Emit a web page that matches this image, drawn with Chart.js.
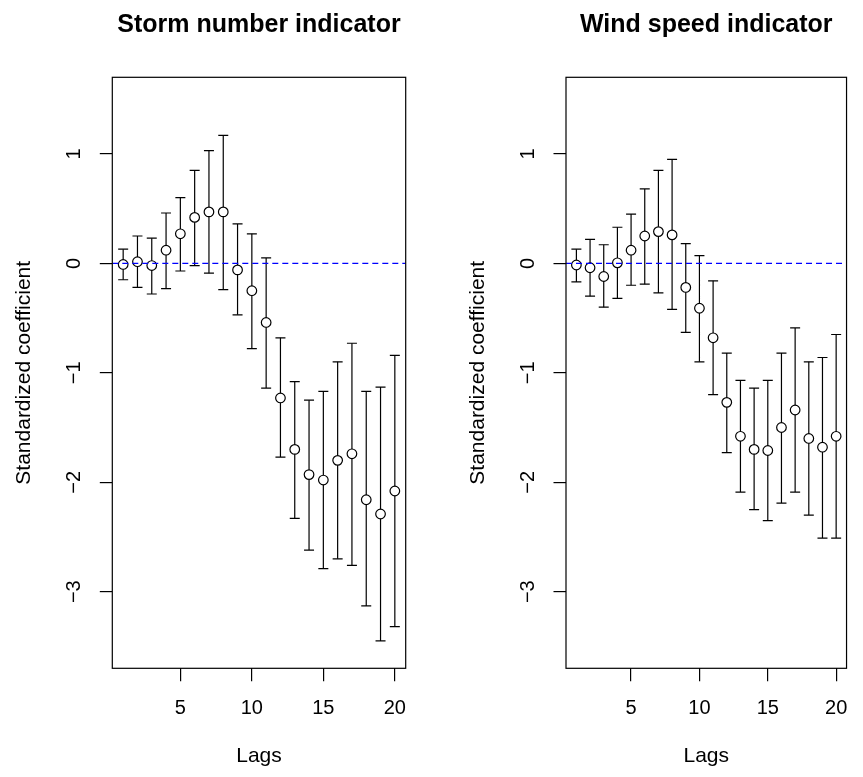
<!DOCTYPE html>
<html>
<head>
<meta charset="utf-8">
<script src="https://cdn.jsdelivr.net/npm/chart.js@4.4.1/dist/chart.umd.min.js"></script>
<style>
  html, body { margin: 0; padding: 0; background: #ffffff; overflow: hidden; }
  #wrap { position: relative; width: 863px; height: 777px; }
  canvas { position: absolute; top: 0; }
  #c1 { left: 0; }
  #c2 { left: 431px; }
</style>
</head>
<body>
<div id="wrap">
  <canvas id="c1" width="431" height="777"></canvas>
  <canvas id="c2" width="432" height="777"></canvas>
</div>
<script>
// ---- data ----
const lags = [1,2,3,4,5,6,7,8,9,10,11,12,13,14,15,16,17,18,19,20];

const stormCoef  = [-0.01, 0.015, -0.02, 0.12, 0.27, 0.42, 0.47, 0.47, -0.06, -0.25, -0.54, -1.23, -1.70, -1.93, -1.98, -1.80, -1.74, -2.16, -2.29, -2.08];
const stormLower = [-0.15, -0.22, -0.28, -0.23, -0.07, -0.02, -0.09, -0.24, -0.47, -0.78, -1.14, -1.77, -2.33, -2.62, -2.79, -2.70, -2.76, -3.13, -3.45, -3.32];
const stormUpper = [0.13, 0.25, 0.23, 0.46, 0.60, 0.85, 1.03, 1.17, 0.36, 0.27, 0.05, -0.68, -1.08, -1.25, -1.17, -0.90, -0.73, -1.17, -1.13, -0.84];

const windCoef  = [-0.015, -0.04, -0.12, 0.005, 0.12, 0.25, 0.29, 0.26, -0.22, -0.41, -0.68, -1.27, -1.58, -1.70, -1.71, -1.50, -1.34, -1.60, -1.68, -1.58];
const windLower = [-0.17, -0.30, -0.40, -0.32, -0.20, -0.19, -0.27, -0.42, -0.63, -0.90, -1.20, -1.73, -2.09, -2.25, -2.35, -2.19, -2.09, -2.30, -2.51, -2.51];
const windUpper = [0.13, 0.22, 0.17, 0.33, 0.45, 0.68, 0.85, 0.95, 0.18, 0.07, -0.16, -0.82, -1.07, -1.14, -1.07, -0.82, -0.59, -0.90, -0.86, -0.65];

const xTicks = [5, 10, 15, 20];
const yTicks = [-3, -2, -1, 0, 1];
const xLimits = [0.24, 20.76];
const yLimits = [-3.7, 1.7];
const refLine = 0;

const titles = ["Storm number indicator", "Wind speed indicator"];
const xTitle = "Lags";
const yTitle = "Standardized coefficient";

// ---- rendering ----
const FONT = '"Liberation Sans", Arial, Helvetica, sans-serif';

function fmt(v) { return v < 0 ? '\u2212' + Math.abs(v) : String(v); }

const boxAndTitle = {
  id: 'boxAndTitle',
  afterDraw(chart) {
    const a = chart.chartArea, ctx = chart.ctx;
    ctx.save();
    ctx.strokeStyle = '#000';
    ctx.lineWidth = 1.2;
    ctx.strokeRect(a.left, a.top, a.right - a.left, a.bottom - a.top);
    ctx.fillStyle = '#000';
    ctx.font = 'bold 25px ' + FONT;
    ctx.textAlign = 'center';
    ctx.textBaseline = 'middle';
    ctx.fillText(chart.options.plugins.boxAndTitle.text, (a.left + a.right) / 2, 25);
    ctx.restore();
  }
};

function makeChart(id, title, coef, lower, upper, yWidth, rightPad, yTitlePad) {
  const bars = [];
  lags.forEach((l, i) => {
    bars.push({x: l, y: lower[i]}, {x: l, y: upper[i]}, {x: l, y: null});
  });
  const caps = [];
  lags.forEach((l, i) => { caps.push({x: l, y: lower[i]}, {x: l, y: upper[i]}); });
  const pts = lags.map((l, i) => ({x: l, y: coef[i]}));
  const zero = [{x: xLimits[0], y: refLine}, {x: xLimits[1], y: refLine}];

  return new Chart(document.getElementById(id), {
    type: 'scatter',
    data: {
      datasets: [
        { data: zero, showLine: true, borderColor: '#0000ff', borderWidth: 1.3, borderDash: [6, 4],
          pointRadius: 0, order: 0 },
        { data: pts, pointRadius: 4.8, pointBorderWidth: 1.2, pointBorderColor: '#000',
          pointBackgroundColor: '#fff', pointStyle: 'circle', order: 1 },
        { data: caps, pointStyle: 'line', pointRadius: 5, pointBorderWidth: 1.2,
          pointBorderColor: '#000', order: 2 },
        { data: bars, showLine: true, spanGaps: false, borderColor: '#000', borderWidth: 1.2,
          pointRadius: 0, order: 3 }
      ]
    },
    options: {
      responsive: false,
      animation: false,
      events: [],
      layout: { padding: { top: 77.3, right: rightPad, left: 0, bottom: 0 } },
      plugins: {
        legend: { display: false },
        tooltip: { enabled: false },
        title: { display: false },
        boxAndTitle: { text: title }
      },
      scales: {
        x: {
          type: 'linear',
          min: xLimits[0], max: xLimits[1],
          afterBuildTicks: s => { s.ticks = xTicks.map(v => ({value: v})); },
          afterFit: s => { s.height = 777 - 668.3; },
          grid: { display: true, drawOnChartArea: false, drawTicks: true, tickLength: 13,
                  tickColor: '#000', lineWidth: 1.2 },
          border: { display: false },
          ticks: { color: '#000', font: { family: FONT, size: 20 }, padding: 15.5,
                   maxRotation: 0, minRotation: 0, autoSkip: false, callback: v => fmt(v) },
          title: { display: true, text: xTitle, color: '#000', font: { family: FONT, size: 21 },
                   padding: { top: 0, bottom: 8 } }
        },
        y: {
          type: 'linear',
          min: yLimits[0], max: yLimits[1],
          afterBuildTicks: s => { s.ticks = yTicks.map(v => ({value: v})); },
          afterFit: s => { s.width = yWidth; },
          grid: { display: true, drawOnChartArea: false, drawTicks: true, tickLength: 12.5,
                  tickColor: '#000', lineWidth: 1.2 },
          border: { display: false },
          ticks: { color: '#000', font: { family: FONT, size: 20 }, padding: 14,
                   minRotation: 90, maxRotation: 90, crossAlign: 'center', autoSkip: false,
                   callback: v => fmt(v) },
          title: { display: true, text: yTitle, color: '#000', font: { family: FONT, size: 21 },
                   padding: { top: yTitlePad, bottom: 0 } }
        }
      }
    },
    plugins: [boxAndTitle]
  });
}

makeChart('c1', titles[0], stormCoef, stormLower, stormUpper, 112.3, 431 - 405.7, 11.4);
makeChart('c2', titles[1], windCoef, windLower, windUpper, 135, 432 - 428.3, 34.7);
</script>
</body>
</html>
